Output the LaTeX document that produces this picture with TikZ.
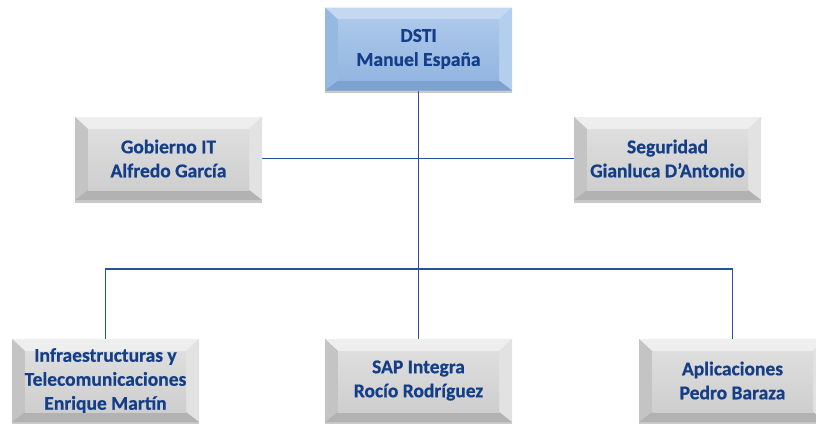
\documentclass[tikz,border=0pt]{standalone}
\usepackage{fontspec}
\setmainfont{Carlito}[BoldFeatures={FakeBold=0.6}]
\usetikzlibrary{shadows,backgrounds}
\definecolor{txt}{RGB}{20,62,136}
\definecolor{ln}{RGB}{40,82,152}
% gray palette
\definecolor{gtop}{RGB}{238,238,238}
\definecolor{gleft}{RGB}{196,196,196}
\definecolor{gright}{RGB}{226,226,226}
\definecolor{gbot}{RGB}{178,178,178}
\definecolor{gface1}{RGB}{222,222,222}
\definecolor{gface2}{RGB}{206,206,206}
% blue palette
\definecolor{btop}{RGB}{196,217,241}
\definecolor{bleft}{RGB}{150,185,226}
\definecolor{bright}{RGB}{180,206,237}
\definecolor{bbot}{RGB}{126,162,208}
\definecolor{bface1}{RGB}{172,200,234}
\definecolor{bface2}{RGB}{146,181,224}
\newcommand\mybevel[6]{%
 \fill[#1] (path picture bounding box.north west) -- (path picture bounding box.north east)
   -- ([xshift=-13pt,yshift=-12pt]path picture bounding box.north east)
   -- ([xshift=13pt,yshift=-12pt]path picture bounding box.north west) -- cycle;
 \fill[#2] (path picture bounding box.north west) -- ([xshift=13pt,yshift=-12pt]path picture bounding box.north west)
   -- ([xshift=13pt,yshift=10pt]path picture bounding box.south west)
   -- (path picture bounding box.south west) -- cycle;
 \fill[#3] (path picture bounding box.north east) -- ([xshift=-13pt,yshift=-12pt]path picture bounding box.north east)
   -- ([xshift=-13pt,yshift=10pt]path picture bounding box.south east)
   -- (path picture bounding box.south east) -- cycle;
 \fill[#4] (path picture bounding box.south west) -- ([xshift=13pt,yshift=10pt]path picture bounding box.south west)
   -- ([xshift=-13pt,yshift=10pt]path picture bounding box.south east)
   -- (path picture bounding box.south east) -- cycle;
 \shade[top color=#5,bottom color=#6] ([xshift=13pt,yshift=-12pt]path picture bounding box.north west)
   rectangle ([xshift=-13pt,yshift=10pt]path picture bounding box.south east);
}
\tikzset{
 box/.style={rectangle, minimum width=187pt, minimum height=83pt, inner sep=0pt,
   align=center, text=txt, font=\fontsize{19.5}{24}\selectfont\bfseries,
   drop shadow={shadow xshift=0pt, shadow yshift=-2.5pt, opacity=0.35, fill=black!60}},
 graybox/.style={box, fill=gface1, path picture={\mybevel{gtop}{gleft}{gright}{gbot}{gface1}{gface2}}},
 bluebox/.style={box, fill=bface1, path picture={\mybevel{btop}{bleft}{bright}{bbot}{bface1}{bface2}}},
 conn/.style={draw=ln, line width=1.8pt}
}
\begin{document}
\begin{tikzpicture}[x=1pt,y=-1pt]
\useasboundingbox (0,0) rectangle (816,423);
\clip (0,0) rectangle (816,423);
% boxes
\node[bluebox] (dsti) at (418.5,49) {DSTI\\Manuel España};
\node[graybox] (gob) at (168.5,158.5) {Gobierno IT\\Alfredo García};
\node[graybox] (seg) at (667.5,158.5) {Seguridad\\Gianluca D’Antonio};
\node[graybox] (inf) at (105.5,380.5) {Infraestructuras y\\Telecomunicaciones\\Enrique Martín};
\node[graybox] (sap) at (418.5,380.5) {SAP Integra\\Rocío Rodríguez};
\node[graybox] (apl) at (732.5,380.5) {Aplicaciones\\Pedro Baraza};
\coordinate (bus) at (418.5,269);
\begin{scope}[on background layer]
\fill[white] (0,0) rectangle (816,423);
\draw[conn] (dsti.south) -- (sap.north);
\draw[conn] (gob.east) -- (seg.west);
\draw[conn] (inf.north) |- (bus) -| (apl.north);
\end{scope}
\end{tikzpicture}
\end{document}
